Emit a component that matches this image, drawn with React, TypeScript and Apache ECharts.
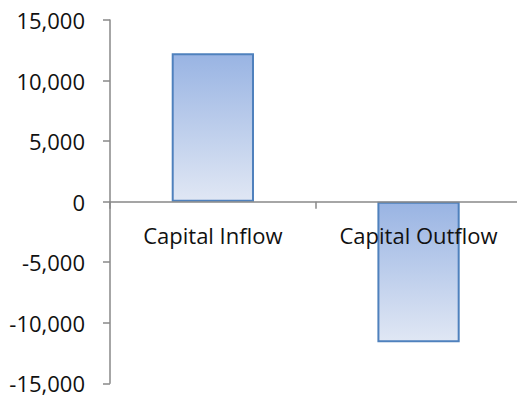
import React, { useEffect, useRef } from "react";
import * as echarts from "echarts";

const categories = ["Capital Inflow", "Capital Outflow"];
const flowValues = [12250, -11600];
const yMin = -15000;
const yMax = 15000;
const yStep = 5000;

const GRID_TOP = 20;
const GRID_HEIGHT = 363.3;

export default function App() {
  const ref = useRef<HTMLDivElement>(null);

  useEffect(() => {
    document.body.style.margin = "0";
    const chart = echarts.init(ref.current!, null, { renderer: "svg" });
    const font = "'Open Sans', 'Noto Sans', sans-serif";
    // category axis sits on the zero line, halfway down the symmetric value range
    const zeroOffset = -GRID_HEIGHT * (0 - yMin) / (yMax - yMin);
    chart.setOption({
      animation: false,
      grid: {
        left: 110,
        top: GRID_TOP,
        width: 411.4,
        height: GRID_HEIGHT,
        containLabel: false,
        outerBoundsMode: "none",
      },
      xAxis: {
        type: "category",
        data: categories,
        z: 5,
        offset: zeroOffset,
        axisLine: { onZero: false, lineStyle: { color: "#888888", width: 1.5 } },
        axisTick: { show: true, alignWithLabel: false, length: 7, inside: false, lineStyle: { color: "#888888", width: 1.5 } },
        axisLabel: {
          color: "#111111",
          fontSize: 22,
          fontFamily: font,
          margin: 22,
          interval: 0,
          hideOverlap: false,
        },
        splitLine: { show: false },
      },
      yAxis: {
        type: "value",
        min: yMin,
        max: yMax,
        interval: yStep,
        axisLine: { show: true, lineStyle: { color: "#888888", width: 1.5 } },
        axisTick: { show: true, length: 7, lineStyle: { color: "#888888", width: 1.5 } },
        axisLabel: {
          color: "#111111",
          fontSize: 22,
          fontFamily: font,
          margin: 25,
          formatter: (v: number) => v.toLocaleString("en-US"),
        },
        splitLine: { show: false },
      },
      series: [
        {
          type: "bar",
          data: flowValues,
          barWidth: "40%",
          itemStyle: {
            color: new echarts.graphic.LinearGradient(0, 0, 0, 1, [
              { offset: 0, color: "#99B4E3" },
              { offset: 1, color: "#E0E7F4" },
            ]),
            borderColor: "#4F81BD",
            borderWidth: 2,
          },
        },
      ],
    });
    return () => chart.dispose();
  }, []);

  return <div ref={ref} style={{ width: 517, height: 396 }} />;
}
